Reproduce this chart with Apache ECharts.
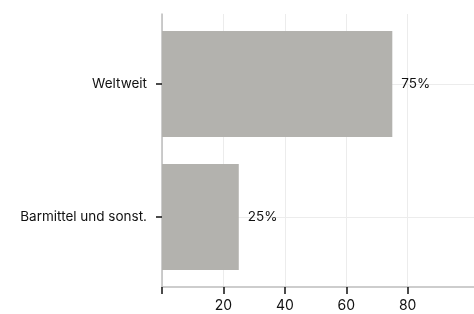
<!DOCTYPE html>
<html><head><meta charset="utf-8">
<script src="https://cdn.jsdelivr.net/npm/echarts@6/dist/echarts.min.js"></script>
<style>html,body{margin:0;padding:0;background:#fff}#c{width:474px;height:314px}</style>
</head><body><div id="c"></div>
<script>
const categories = ["Barmittel und sonst.", "Weltweit"];
const values = [25, 75];
const xTicks = [0, 20, 40, 60, 80];
const xLabels = [20, 40, 60, 80];

const chart = echarts.init(document.getElementById('c'), null, {renderer: 'canvas'});
const font = 'Inter, "Liberation Sans", sans-serif';
const textColor = '#111';
chart.setOption({
  animation: false,
  grid: [
    {left: 162, right: 0, top: 14, bottom: 27, containLabel: false},
    {left: 162, right: 0, top: 17.5, bottom: 30.5, containLabel: false}
  ],
  xAxis: [{
    type: 'value', gridIndex: 0, min: 0, max: 101.6, interval: 20,
    axisLine: {show: true, lineStyle: {color: '#bdbdbd', width: 1.5}},
    axisTick: {show: true, customValues: xTicks, length: 7, lineStyle: {color: '#111', width: 1.5}},
    axisLabel: {customValues: xLabels, color: textColor, fontFamily: font, fontSize: 14, margin: 12},
    splitLine: {show: true, lineStyle: {color: '#ececec', width: 1}}
  }, {
    type: 'value', gridIndex: 1, min: 0, max: 101.6, interval: 20, show: false
  }],
  yAxis: [{
    type: 'category', gridIndex: 0, data: categories,
    axisLine: {show: true, lineStyle: {color: '#bdbdbd', width: 1.5}},
    axisTick: {show: false}, axisLabel: {show: false}, splitLine: {show: false}
  }, {
    type: 'category', gridIndex: 1, data: categories,
    axisLine: {show: false},
    axisTick: {show: true, alignWithLabel: true, length: 6, lineStyle: {color: '#111', width: 1.5}},
    axisLabel: {color: textColor, fontFamily: font, fontSize: 13.5, margin: 15},
    splitLine: {show: true, alignWithLabel: true, lineStyle: {color: '#ececec', width: 1}}
  }],
  series: [{
    type: 'bar', xAxisIndex: 1, yAxisIndex: 1, data: values, barCategoryGap: '20.3%',
    itemStyle: {color: '#b3b2ae'},
    label: {show: true, position: 'right', distance: 9, formatter: '{c}%', color: textColor, fontFamily: font, fontSize: 13.5}
  }]
});
</script></body></html>
